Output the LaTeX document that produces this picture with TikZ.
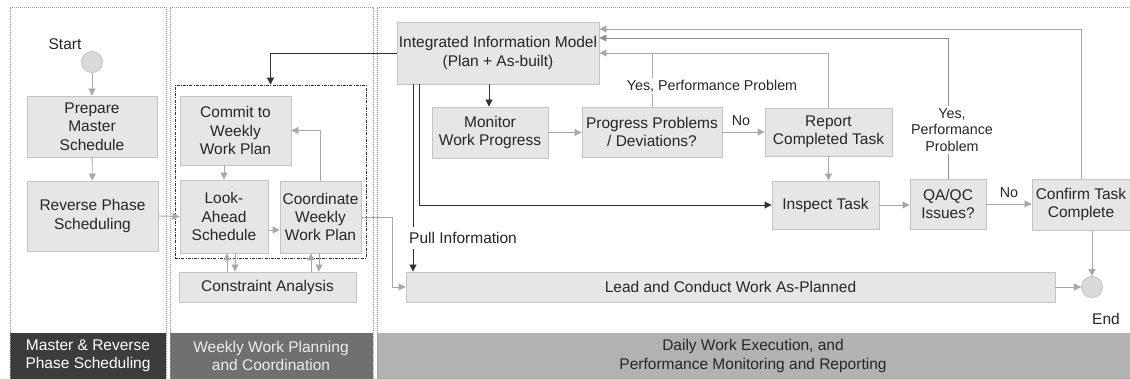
\documentclass[tikz,border=0pt]{standalone}
\usepackage{fontspec}
\setmainfont{Liberation Sans}
\usetikzlibrary{arrows.meta,calc}
\definecolor{boxfill}{HTML}{E6E6E6}
\definecolor{boxline}{HTML}{C4C4C4}
\definecolor{circfill}{HTML}{DADADA}
\definecolor{glinec}{HTML}{A8A8A8}
\definecolor{mlinec}{HTML}{8E8E8E}
\definecolor{dlinec}{HTML}{333333}
\definecolor{barA}{HTML}{3C3C3C}
\definecolor{barB}{HTML}{707070}
\definecolor{barC}{HTML}{B2B2B2}
\definecolor{txt}{HTML}{262626}
\definecolor{lanec}{HTML}{9A9A9A}
\begin{document}
\begin{tikzpicture}[x=1pt,y=-1pt,
  every node/.style={font=\fontsize{15.5}{18.3}\selectfont, text=txt},
  box/.style={draw=boxline, fill=boxfill, line width=0.9pt, align=center, inner sep=0pt},
  endpt/.style={circle, draw=boxline, fill=circfill, line width=0.9pt, minimum size=21pt, inner sep=0pt},
  lbl/.style={font=\fontsize{14.3}{16.6}\selectfont, align=center, inner sep=2pt},
  barlbl/.style={align=center, inner sep=0pt},
  glink/.style={draw=glinec, line width=0.9pt, -{Triangle[length=7pt,width=7pt]}},
  gline/.style={draw=glinec, line width=0.9pt},
  mlink/.style={draw=mlinec, line width=0.9pt, -{Triangle[length=7pt,width=7pt]}},
  mline/.style={draw=mlinec, line width=0.9pt},
  dlink/.style={draw=dlinec, line width=0.9pt, -{Triangle[length=7pt,width=7pt]}},
  dline/.style={draw=dlinec, line width=0.9pt},
  lane/.style={draw=lanec, line width=0.8pt, dash pattern=on 1pt off 1pt},
  group/.style={draw=dlinec, line width=0.8pt, dash pattern=on 3pt off 1.2pt on 1pt off 1.2pt, inner sep=0pt}
]
\useasboundingbox (0,0) rectangle (1130,379);
\fill[white] (0,0) rectangle (1130,379);

% lanes
\fill[barA] (10,333) rectangle (166,379);
\fill[barB] (170,333) rectangle (373,379);
\fill[barC] (377,333) rectangle (1130,379);
\draw[lane] (10,379) -- (10,7) -- (166,7) -- (166,379);
\draw[lane] (170,379) -- (170,7) -- (373,7) -- (373,379);
\draw[lane] (377,379) -- (377,7) -- (1130,7);
\draw[lane] (377,378) -- (1130,378);

\node[barlbl, text=white] (barlblA) at (88,356) {Master \& Reverse\\Phase Scheduling};
\node[barlbl, text=white!93!black] (barlblB) at (271,356) {Weekly Work Planning\\and Coordination};
\node[barlbl, text=txt] (barlblC) at (753,356) {Daily Work Execution, and\\Performance Monitoring and Reporting};

% lane 1
\node (startlbl) at (65,44) {Start};
\node[endpt] (start) at (92,62) {};
\node[box, minimum width=130pt, minimum height=61pt] (prep) at (92,126.5) {Prepare\\Master\\Schedule};
\node[box, minimum width=131pt, minimum height=70pt] (rev) at (92.5,216) {Reverse Phase\\Scheduling};

% lane 2
\node[group, minimum width=191pt, minimum height=173pt] (grp) at (270.5,171.5) {};
\node[box, minimum width=111pt, minimum height=69pt] (commit) at (235.5,130.5) {Commit to\\Weekly\\Work Plan};
\node[box, minimum width=88pt, minimum height=73pt] (look) at (224,216.5) {Look-\\Ahead\\Schedule};
\node[box, minimum width=81pt, minimum height=72pt] (coord) at (320.5,217) {Coordinate\\Weekly\\Work Plan};
\node[box, minimum width=177pt, minimum height=30pt] (cons) at (267.5,287) {Constraint Analysis};

% lane 3
\node[box, minimum width=202pt, minimum height=62pt] (iim) at (498,53) {Integrated Information Model\\(Plan + As-built)};
\node[box, minimum width=116pt, minimum height=51pt] (mon) at (490,132.5) {Monitor\\Work Progress};
\node[box, minimum width=140pt, minimum height=50pt] (prog) at (652,132) {Progress Problems\\/ Deviations?};
\node[box, minimum width=127pt, minimum height=48pt] (rep) at (828.5,132) {Report\\Completed Task};
\node[box, minimum width=107pt, minimum height=48pt] (insp) at (825.5,205) {Inspect Task};
\node[box, minimum width=76pt, minimum height=50pt] (qa) at (948,204) {QA/QC\\Issues?};
\node[box, minimum width=98pt, minimum height=51pt] (conf) at (1081,204.5) {Confirm Task\\Complete};
\node[box, minimum width=649pt, minimum height=30pt] (lead) at (730.5,287) {Lead and Conduct Work As-Planned};
\node[endpt] (end) at (1092,287) {};
\node (endlbl) at (1106,319) {End};

\node[lbl] (yes1) at (712,86) {Yes, Performance Problem};
\node[lbl] (yes2) at (952,130) {Yes,\\Performance\\Problem};
\node[lbl] (no1) at (741,121) {No};
\node[lbl] (no2) at (1009,193) {No};
\node[inner sep=5pt, anchor=west] (pull) at (404,238) {Pull Information};

% lane 1 links
\draw[glink] (start) -- (prep);
\draw[glink] (prep) -- (rev);
\draw[glink] (rev.east) -- (look.west);

% lane 2 links
\draw[glink] (look.north |- commit.south) -- (look.north);
\draw[glink] ([yshift=-13.5pt]look.east) -- ([yshift=-13.5pt]look.east -| coord.west);
\draw[glink] (coord.north) |- (commit.east);
\draw[glink] ([xshift=3pt]look.south |- cons.north) -- ([xshift=3pt]look.south);
\draw[glink] ([xshift=11pt]look.south) -- ([xshift=11pt]look.south |- cons.north);
\draw[glink] ([xshift=-9.5pt]coord.south |- cons.north) -- ([xshift=-9.5pt]coord.south);
\draw[glink] ([xshift=-1.5pt]coord.south) -- ([xshift=-1.5pt]coord.south |- cons.north);
\draw[glink] (coord.east) -- ++(31,0) |- (lead.west);

% lane 3 links
\draw[dlink] (iim.west) -| (grp.north);
\draw[dlink] ([xshift=-9pt]iim.south) -- ([xshift=-9pt]iim.south |- mon.north);
\draw[dlink] ([xshift=-79pt]iim.south) |- (insp.west);
\draw[dline] ([xshift=-85pt]iim.south) -- ([xshift=-85pt]iim.south |- pull.north);
\draw[dlink] ([xshift=-85pt]iim.south |- pull.south) -- ([xshift=-85pt]iim.south |- lead.north);
\draw[glink] (mon.east) -- (mon.east -| prog.west);
\draw[glink] (prog.east) -- (rep.west);
\draw[gline] (prog.north) -- (prog.north |- yes1.south);
\draw[gline] (prog.north |- yes1.north) -- (prog.north |- iim.east);
\draw[glink] (rep.north) |- (iim.east);
\draw[glink] (rep.south) -- (rep.south |- insp.north);
\draw[glink] (insp.east) -- (insp.east -| qa.west);
\draw[glink] (qa.east) -- (qa.east -| conf.west);
\draw[mline] (qa.north) -- (qa.north |- yes2.south);
\draw[mlink] (qa.north |- yes2.north) |- ([yshift=15pt]iim.east);
\draw[glink] (conf.north) |- ([yshift=24pt]iim.east);
\draw[glink] (end.north |- conf.south) -- (end.north);
\draw[glink] (lead.east) -- (end.west);
\end{tikzpicture}
\end{document}
